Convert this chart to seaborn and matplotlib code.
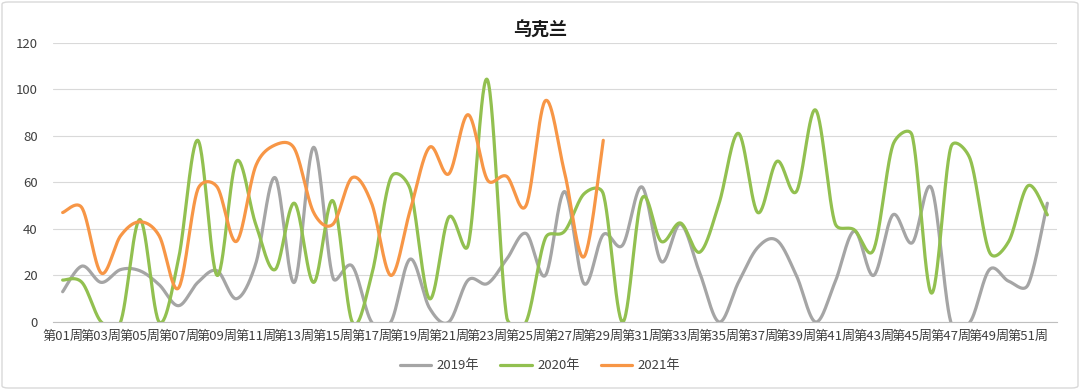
import numpy as np
import pandas as pd
import matplotlib
matplotlib.use("Agg")
import matplotlib.pyplot as plt
from matplotlib.patches import FancyBboxPatch
from matplotlib.lines import Line2D
import seaborn as sns

# ---- data ----
weeks = [f"第{i:02d}周" for i in range(1, 53)]
series_names = ["2019年", "2020年", "2021年"]
y2019 = [13, 24, 17, 22.5, 22, 16, 7, 17, 22, 10, 25, 62, 17, 75, 19, 24, 0, 0,
         27, 6, 0, 18, 16.5, 27, 38, 20, 56, 16.5, 37.5, 33, 58, 26, 42, 21, 0,
         17, 32, 35, 20, 0, 17, 39, 20, 46, 34, 57.5, 0, 0, 22.5, 17.5, 16, 51]
y2020 = [18, 17, 0, 0, 44, 0, 27, 78, 20, 69, 42, 22.5, 51, 17, 52, 0, 20, 62,
         57, 10, 45, 33, 104, 2, 0, 36, 39, 55, 55, 0, 53, 34.6, 42.5, 30, 51,
         81, 47, 69, 56, 91, 42.5, 39.6, 31, 76, 80, 12.4, 75, 70, 30, 34.6, 58.5, 46]
y2021 = [47, 49, 21, 37, 43, 37, 14.6, 57, 58, 34.6, 67, 76, 74.5, 47, 42, 62, 51,
         20, 48, 75, 63.6, 89, 61, 62.5, 50, 95, 64, 28, 78]
colors = ["#A5A5A5", "#92C050", "#F79646"]
yticks = [0, 20, 40, 60, 80, 100, 120]

# screen scale (pixels per category / per unit) used for the smoothing geometry
SX, SY = 1004 / 52, 279.5 / 120


def smooth(xs, ys, n=30):
    """Excel-style smoothed line: Bezier through points, control arms
    limited to half the segment length (computed in screen space)."""
    P = np.column_stack([np.asarray(xs, float) * SX, np.asarray(ys, float) * SY])
    m = len(P)
    out = []
    for i in range(m - 1):
        p0 = P[max(i - 1, 0)]
        p1 = P[i]
        p2 = P[i + 1]
        p3 = P[min(i + 2, m - 1)]
        d12 = np.linalg.norm(p2 - p1)
        d02 = np.linalg.norm(p2 - p0)
        d13 = np.linalg.norm(p3 - p1)
        f1 = 1 / 6 if d02 / 6 < d12 / 2 else (d12 / (2 * d02) if d02 > 0 else 0)
        f2 = 1 / 6 if d13 / 6 < d12 / 2 else (d12 / (2 * d13) if d13 > 0 else 0)
        c1 = p1 + (p2 - p0) * f1
        c2 = p2 - (p3 - p1) * f2
        t = np.linspace(0, 1, n, endpoint=(i == m - 2))[:, None]
        b = (1 - t) ** 3 * p1 + 3 * (1 - t) ** 2 * t * c1 \
            + 3 * (1 - t) * t ** 2 * c2 + t ** 3 * p2
        out.append(b)
    B = np.vstack(out)
    return B[:, 0] / SX, B[:, 1] / SY


frames = []
for name, vals in zip(series_names, [y2019, y2020, y2021]):
    sx, sy = smooth(range(len(vals)), vals)
    frames.append(pd.DataFrame({"x": sx, "y": sy, "series": name}))
df = pd.concat(frames, ignore_index=True)

sns.set_theme(style="white")
plt.rcParams["font.family"] = ["Noto Sans CJK SC", "DejaVu Sans"]

fig = plt.figure(figsize=(10.8, 3.9), dpi=100)
ax = fig.add_axes([53 / 1080, 68 / 390, 1004 / 1080, 279.5 / 390])

sns.lineplot(data=df, x="x", y="y", hue="series", palette=colors,
             hue_order=series_names, sort=False, estimator=None,
             linewidth=2.3, ax=ax, legend=False)

ax.set_xlim(-0.5, 51.5)
ax.set_ylim(0, 120)
ax.set_yticks(yticks)
ax.set_yticklabels([str(v) for v in yticks], fontsize=9.5, color="#404040")
ax.set_xticks(range(0, 52, 2))
ax.set_xticklabels(weeks[::2], fontsize=9.5, color="#404040")
ax.set_xticks(np.arange(-0.5, 52, 1), minor=True)
ax.tick_params(axis="x", which="major", length=0, pad=6)
ax.tick_params(axis="x", which="minor", length=4, width=0.8, color="#BFBFBF",
               direction="out")
ax.tick_params(axis="y", length=0, pad=11)
ax.yaxis.grid(True, color="#D9D9D9", linewidth=0.8)
ax.xaxis.grid(False)
ax.set_axisbelow(True)
for s in ["top", "right", "left"]:
    ax.spines[s].set_visible(False)
ax.spines["bottom"].set_color("#BFBFBF")
ax.spines["bottom"].set_linewidth(0.8)
ax.set_xlabel("")
ax.set_ylabel("")

fig.text(0.5, 1 - 30 / 390, "乌克兰", ha="center", va="center",
         fontsize=13, fontweight="bold", color="#1a1a1a")

handles = [Line2D([0], [0], color=c, lw=2.3) for c in colors]
fig.legend(handles, series_names, loc="center", bbox_to_anchor=(0.5, 1 - 366 / 390),
           ncol=3, frameon=False, fontsize=9.5, handlelength=2.4,
           columnspacing=1.6, handletextpad=0.4, labelcolor="#404040")

border = FancyBboxPatch((2 / 1080, 2 / 390), 1 - 4 / 1080, 1 - 4 / 390,
                        boxstyle="round,pad=0,rounding_size=0.006",
                        transform=fig.transFigure, fill=False,
                        edgecolor="#D9D9D9", linewidth=1.0)
fig.patches.append(border)

fig.savefig("out.png", dpi=100)
